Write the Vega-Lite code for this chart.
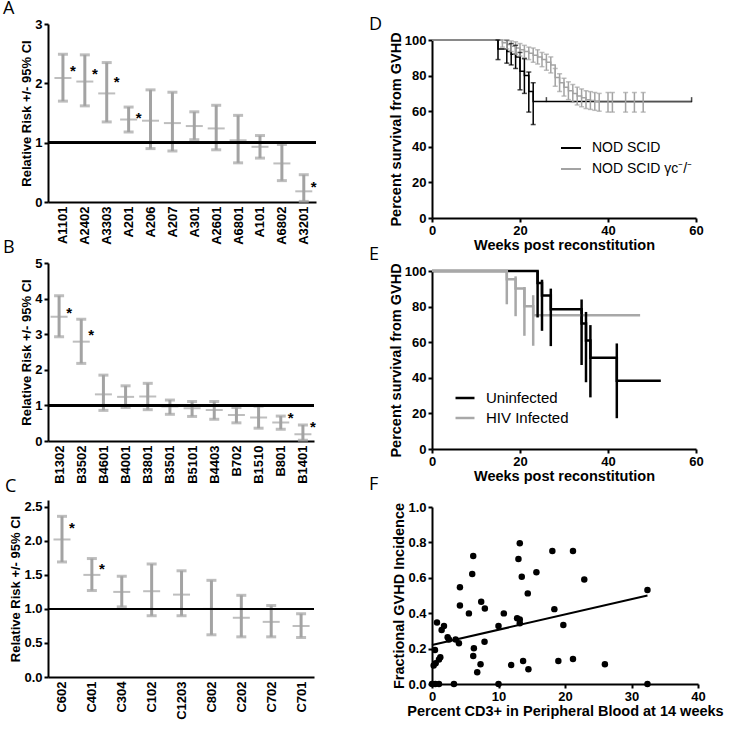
{
  "$schema": "https://vega.github.io/schema/vega-lite/v6.json",
  "padding": {"left": 3, "top": 0, "right": 0, "bottom": 0},
  "background": "white",
  "datasets": {
    "A": [
      {"allele": "A1101", "mid": 2.09, "lo": 1.70, "hi": 2.49},
      {"allele": "A2402", "mid": 2.03, "lo": 1.62, "hi": 2.48},
      {"allele": "A3303", "mid": 1.83, "lo": 1.35, "hi": 2.35},
      {"allele": "A201", "mid": 1.39, "lo": 1.18, "hi": 1.60},
      {"allele": "A206", "mid": 1.37, "lo": 0.90, "hi": 1.89},
      {"allele": "A207", "mid": 1.33, "lo": 0.86, "hi": 1.85},
      {"allele": "A301", "mid": 1.28, "lo": 1.05, "hi": 1.52},
      {"allele": "A2601", "mid": 1.24, "lo": 0.88, "hi": 1.63},
      {"allele": "A6801", "mid": 1.04, "lo": 0.66, "hi": 1.46},
      {"allele": "A101", "mid": 0.93, "lo": 0.74, "hi": 1.12},
      {"allele": "A6802", "mid": 0.65, "lo": 0.36, "hi": 0.97},
      {"allele": "A3201", "mid": 0.18, "lo": 0.01, "hi": 0.46}
    ],
    "Astar": [
      {"allele": "A1101", "sy": 2.27},
      {"allele": "A2402", "sy": 2.22},
      {"allele": "A3303", "sy": 2.09},
      {"allele": "A201", "sy": 1.48},
      {"allele": "A3201", "sy": 0.32}
    ],
    "B": [
      {"allele": "B1302", "mid": 3.49, "lo": 2.93, "hi": 4.08},
      {"allele": "B3502", "mid": 2.79, "lo": 2.18, "hi": 3.42},
      {"allele": "B4601", "mid": 1.31, "lo": 0.86, "hi": 1.85},
      {"allele": "B4001", "mid": 1.24, "lo": 0.94, "hi": 1.55},
      {"allele": "B3801", "mid": 1.25, "lo": 0.88, "hi": 1.62},
      {"allele": "B3501", "mid": 0.97, "lo": 0.75, "hi": 1.15},
      {"allele": "B5101", "mid": 0.92, "lo": 0.69, "hi": 1.11},
      {"allele": "B4403", "mid": 0.87, "lo": 0.61, "hi": 1.11},
      {"allele": "B702", "mid": 0.73, "lo": 0.51, "hi": 0.94},
      {"allele": "B1510", "mid": 0.66, "lo": 0.36, "hi": 0.98},
      {"allele": "B801", "mid": 0.52, "lo": 0.33, "hi": 0.70},
      {"allele": "B1401", "mid": 0.19, "lo": 0.02, "hi": 0.45}
    ],
    "Bstar": [
      {"allele": "B1302", "sy": 3.72},
      {"allele": "B3502", "sy": 3.10},
      {"allele": "B801", "sy": 0.77},
      {"allele": "B1401", "sy": 0.51}
    ],
    "C": [
      {"allele": "C602", "mid": 2.02, "lo": 1.69, "hi": 2.36},
      {"allele": "C401", "mid": 1.50, "lo": 1.27, "hi": 1.74},
      {"allele": "C304", "mid": 1.25, "lo": 1.03, "hi": 1.48},
      {"allele": "C102", "mid": 1.26, "lo": 0.90, "hi": 1.66},
      {"allele": "C1203", "mid": 1.21, "lo": 0.90, "hi": 1.56},
      {"allele": "C802", "mid": 1.00, "lo": 0.62, "hi": 1.42},
      {"allele": "C202", "mid": 0.87, "lo": 0.59, "hi": 1.20},
      {"allele": "C702", "mid": 0.81, "lo": 0.59, "hi": 1.05},
      {"allele": "C701", "mid": 0.75, "lo": 0.58, "hi": 0.93}
    ],
    "Cstar": [
      {"allele": "C602", "sy": 2.25},
      {"allele": "C401", "sy": 1.64}
    ],
    "Dkm": [
      {"g": "NOD SCID", "t": 0, "s": 100},
      {"g": "NOD SCID", "t": 15, "s": 95},
      {"g": "NOD SCID", "t": 17, "s": 93.5},
      {"g": "NOD SCID", "t": 18, "s": 92},
      {"g": "NOD SCID", "t": 19, "s": 90.5},
      {"g": "NOD SCID", "t": 20, "s": 82.5},
      {"g": "NOD SCID", "t": 21, "s": 80},
      {"g": "NOD SCID", "t": 22, "s": 71},
      {"g": "NOD SCID", "t": 23, "s": 65.5},
      {"g": "NOD SCID", "t": 59, "s": 65.5},
      {"g": "NOD SCID γc⁻/⁻", "t": 0, "s": 100},
      {"g": "NOD SCID γc⁻/⁻", "t": 16, "s": 98.5},
      {"g": "NOD SCID γc⁻/⁻", "t": 17, "s": 97.5},
      {"g": "NOD SCID γc⁻/⁻", "t": 18, "s": 96.5},
      {"g": "NOD SCID γc⁻/⁻", "t": 19, "s": 95.5},
      {"g": "NOD SCID γc⁻/⁻", "t": 20, "s": 94.5},
      {"g": "NOD SCID γc⁻/⁻", "t": 21, "s": 93.5},
      {"g": "NOD SCID γc⁻/⁻", "t": 22, "s": 92.5},
      {"g": "NOD SCID γc⁻/⁻", "t": 23, "s": 91.5},
      {"g": "NOD SCID γc⁻/⁻", "t": 24, "s": 90.5},
      {"g": "NOD SCID γc⁻/⁻", "t": 25, "s": 89},
      {"g": "NOD SCID γc⁻/⁻", "t": 26, "s": 87.5},
      {"g": "NOD SCID γc⁻/⁻", "t": 27, "s": 86},
      {"g": "NOD SCID γc⁻/⁻", "t": 28, "s": 79},
      {"g": "NOD SCID γc⁻/⁻", "t": 29, "s": 76},
      {"g": "NOD SCID γc⁻/⁻", "t": 30, "s": 73.5},
      {"g": "NOD SCID γc⁻/⁻", "t": 31, "s": 71.5},
      {"g": "NOD SCID γc⁻/⁻", "t": 32, "s": 70},
      {"g": "NOD SCID γc⁻/⁻", "t": 33, "s": 68.5},
      {"g": "NOD SCID γc⁻/⁻", "t": 34, "s": 67.5},
      {"g": "NOD SCID γc⁻/⁻", "t": 35, "s": 66.5},
      {"g": "NOD SCID γc⁻/⁻", "t": 36, "s": 66},
      {"g": "NOD SCID γc⁻/⁻", "t": 37, "s": 65.5},
      {"g": "NOD SCID γc⁻/⁻", "t": 38, "s": 65},
      {"g": "NOD SCID γc⁻/⁻", "t": 59, "s": 65}
    ],
    "Derr": [
      {"g": "NOD SCID", "t": 15, "lo": 89, "hi": 100},
      {"g": "NOD SCID", "t": 17, "lo": 87, "hi": 99.8},
      {"g": "NOD SCID", "t": 18, "lo": 86, "hi": 98},
      {"g": "NOD SCID", "t": 19, "lo": 84, "hi": 97},
      {"g": "NOD SCID", "t": 20, "lo": 72, "hi": 93},
      {"g": "NOD SCID", "t": 21, "lo": 70, "hi": 89.5},
      {"g": "NOD SCID", "t": 22, "lo": 59.5, "hi": 82},
      {"g": "NOD SCID", "t": 23, "lo": 52.5, "hi": 76},
      {"g": "NOD SCID γc⁻/⁻", "t": 16, "lo": 96, "hi": 100},
      {"g": "NOD SCID γc⁻/⁻", "t": 17, "lo": 95, "hi": 100},
      {"g": "NOD SCID γc⁻/⁻", "t": 18, "lo": 93.5, "hi": 99.5},
      {"g": "NOD SCID γc⁻/⁻", "t": 19, "lo": 92, "hi": 99},
      {"g": "NOD SCID γc⁻/⁻", "t": 20, "lo": 91, "hi": 98},
      {"g": "NOD SCID γc⁻/⁻", "t": 21, "lo": 90, "hi": 97},
      {"g": "NOD SCID γc⁻/⁻", "t": 22, "lo": 89, "hi": 96},
      {"g": "NOD SCID γc⁻/⁻", "t": 23, "lo": 87.5, "hi": 95.5},
      {"g": "NOD SCID γc⁻/⁻", "t": 24, "lo": 86.5, "hi": 94.5},
      {"g": "NOD SCID γc⁻/⁻", "t": 25, "lo": 85, "hi": 93},
      {"g": "NOD SCID γc⁻/⁻", "t": 26, "lo": 83, "hi": 92},
      {"g": "NOD SCID γc⁻/⁻", "t": 27, "lo": 81.5, "hi": 90.5},
      {"g": "NOD SCID γc⁻/⁻", "t": 28, "lo": 74, "hi": 84},
      {"g": "NOD SCID γc⁻/⁻", "t": 29, "lo": 71, "hi": 81},
      {"g": "NOD SCID γc⁻/⁻", "t": 30, "lo": 68.5, "hi": 78.5},
      {"g": "NOD SCID γc⁻/⁻", "t": 31, "lo": 66.5, "hi": 76.5},
      {"g": "NOD SCID γc⁻/⁻", "t": 32, "lo": 65, "hi": 75},
      {"g": "NOD SCID γc⁻/⁻", "t": 33, "lo": 63.5, "hi": 73.5},
      {"g": "NOD SCID γc⁻/⁻", "t": 34, "lo": 62.5, "hi": 72.5},
      {"g": "NOD SCID γc⁻/⁻", "t": 35, "lo": 61.5, "hi": 71.5},
      {"g": "NOD SCID γc⁻/⁻", "t": 36, "lo": 61, "hi": 71},
      {"g": "NOD SCID γc⁻/⁻", "t": 37, "lo": 60.5, "hi": 70.5},
      {"g": "NOD SCID γc⁻/⁻", "t": 38, "lo": 60, "hi": 70},
      {"g": "NOD SCID γc⁻/⁻", "t": 40, "lo": 59.5, "hi": 70.5},
      {"g": "NOD SCID γc⁻/⁻", "t": 41, "lo": 59.5, "hi": 70.5},
      {"g": "NOD SCID γc⁻/⁻", "t": 44, "lo": 59.5, "hi": 70.5},
      {"g": "NOD SCID γc⁻/⁻", "t": 46, "lo": 59.5, "hi": 70.5},
      {"g": "NOD SCID γc⁻/⁻", "t": 48, "lo": 59.5, "hi": 70.5}
    ],
    "Dcens": [
      {"g": "NOD SCID", "t": 26, "s": 66.5},
      {"g": "NOD SCID", "t": 59, "s": 66.5}
    ],
    "Ekm": [
      {"g": "Uninfected", "t": 0, "s": 100},
      {"g": "Uninfected", "t": 24, "s": 93.3},
      {"g": "Uninfected", "t": 25, "s": 86.2},
      {"g": "Uninfected", "t": 27, "s": 78.5},
      {"g": "Uninfected", "t": 34, "s": 70.5},
      {"g": "Uninfected", "t": 35, "s": 61},
      {"g": "Uninfected", "t": 36, "s": 51.2},
      {"g": "Uninfected", "t": 42, "s": 38.3},
      {"g": "Uninfected", "t": 52, "s": 38.3},
      {"g": "HIV Infected", "t": 0, "s": 100},
      {"g": "HIV Infected", "t": 17, "s": 95.3},
      {"g": "HIV Infected", "t": 19, "s": 90.1},
      {"g": "HIV Infected", "t": 21, "s": 80.2},
      {"g": "HIV Infected", "t": 23, "s": 75.2},
      {"g": "HIV Infected", "t": 47.3, "s": 75.2}
    ],
    "Eerr": [
      {"g": "Uninfected", "t": 24, "lo": 73.9, "hi": 100},
      {"g": "Uninfected", "t": 25, "lo": 66.4, "hi": 95.1},
      {"g": "Uninfected", "t": 27, "lo": 57.8, "hi": 90.1},
      {"g": "Uninfected", "t": 34, "lo": 47.2, "hi": 84},
      {"g": "Uninfected", "t": 35, "lo": 37.5, "hi": 77},
      {"g": "Uninfected", "t": 36, "lo": 29, "hi": 69.6},
      {"g": "Uninfected", "t": 42, "lo": 17.3, "hi": 59.3},
      {"g": "HIV Infected", "t": 17, "lo": 81.3, "hi": 100},
      {"g": "HIV Infected", "t": 19, "lo": 74.6, "hi": 97},
      {"g": "HIV Infected", "t": 21, "lo": 63.6, "hi": 91},
      {"g": "HIV Infected", "t": 23, "lo": 58, "hi": 86.4}
    ],
    "F": [
      {"cd3": 0.25, "inc": 0.104}, {"cd3": 0.45, "inc": 0.192}, {"cd3": 0.75, "inc": 0.348},
      {"cd3": 0.55, "inc": 0.117}, {"cd3": 1.05, "inc": 0.139}, {"cd3": 1.25, "inc": 0.151},
      {"cd3": 1.45, "inc": 0.305}, {"cd3": 1.8, "inc": 0.328}, {"cd3": 2.35, "inc": 0.264},
      {"cd3": 2.55, "inc": 0.252}, {"cd3": 3.55, "inc": 0.252}, {"cd3": 4.05, "inc": 0.230},
      {"cd3": 4.2, "inc": 0.546}, {"cd3": 4.2, "inc": 0.444}, {"cd3": 5.55, "inc": 0.399},
      {"cd3": 6.2, "inc": 0.723}, {"cd3": 6.05, "inc": 0.621}, {"cd3": 7.4, "inc": 0.465},
      {"cd3": 7.95, "inc": 0.427}, {"cd3": 7.9, "inc": 0.239}, {"cd3": 6.3, "inc": 0.202},
      {"cd3": 6.2, "inc": 0.158}, {"cd3": 7.3, "inc": 0.111}, {"cd3": 6.8, "inc": 0.066},
      {"cd3": 10.0, "inc": 0.328}, {"cd3": 10.8, "inc": 0.399}, {"cd3": 11.9, "inc": 0.107},
      {"cd3": 13.0, "inc": 0.706}, {"cd3": 13.2, "inc": 0.795}, {"cd3": 13.5, "inc": 0.606},
      {"cd3": 12.8, "inc": 0.371}, {"cd3": 13.2, "inc": 0.365}, {"cd3": 13.2, "inc": 0.343},
      {"cd3": 13.7, "inc": 0.130}, {"cd3": 14.5, "inc": 0.083}, {"cd3": 14.4, "inc": 0.512},
      {"cd3": 15.7, "inc": 0.631}, {"cd3": 18.1, "inc": 0.751}, {"cd3": 18.4, "inc": 0.423},
      {"cd3": 19.0, "inc": 0.130}, {"cd3": 19.75, "inc": 0.333}, {"cd3": 21.2, "inc": 0.751},
      {"cd3": 21.2, "inc": 0.141}, {"cd3": 22.9, "inc": 0.591}, {"cd3": 26.0, "inc": 0.111},
      {"cd3": 32.4, "inc": 0.531},
      {"cd3": 0.0, "inc": 0}, {"cd3": 0.5, "inc": 0}, {"cd3": 1.05, "inc": 0},
      {"cd3": 3.3, "inc": 0}, {"cd3": 10.0, "inc": 0}, {"cd3": 32.4, "inc": 0}
    ],
    "Ffit": [
      {"cd3": 0, "inc": 0.22},
      {"cd3": 32.4, "inc": 0.50}
    ]
  },
  "hconcat": [
    {
      "spacing": -6,
      "vconcat": [
        {
          "width": 268, "height": 178,
          "title": {"text": "A", "dx": -45, "offset": 0},
          "encoding": {
            "x": {"field": "allele", "type": "nominal", "sort": null,
                  "scale": {"type": "point", "padding": 0.62, "align": 0.55},
                  "axis": {"title": null, "labelAngle": -90, "ticks": false, "labelPadding": 4}}
          },
          "layer": [
            {"data": {"name": "A"}, "mark": {"type": "rule", "color": "#a3a3a3", "strokeWidth": 3},
             "encoding": {"y": {"field": "lo", "type": "quantitative", "scale": {"domain": [0, 3]},
                                "axis": {"title": "Relative Risk +/- 95% CI", "titleFontSize": 13, "values": [0, 1, 2, 3]}},
                          "y2": {"field": "hi"}}},
            {"data": {"name": "A"}, "mark": {"type": "tick", "color": "#a3a3a3", "thickness": 3, "size": 10, "orient": "horizontal"},
             "encoding": {"y": {"field": "lo", "type": "quantitative", "axis": {"title": "Relative Risk +/- 95% CI", "titleFontSize": 13, "values": [0, 1, 2, 3]}}}},
            {"data": {"name": "A"}, "mark": {"type": "tick", "color": "#a3a3a3", "thickness": 3, "size": 10, "orient": "horizontal"},
             "encoding": {"y": {"field": "hi", "type": "quantitative", "axis": {"title": "Relative Risk +/- 95% CI", "titleFontSize": 13, "values": [0, 1, 2, 3]}}}},
            {"data": {"name": "A"}, "mark": {"type": "tick", "color": "#a3a3a3", "thickness": 2, "size": 17, "orient": "horizontal"},
             "encoding": {"y": {"field": "mid", "type": "quantitative", "axis": {"title": "Relative Risk +/- 95% CI", "titleFontSize": 13, "values": [0, 1, 2, 3]}}}},
            {"data": {"name": "A"}, "mark": {"type": "rule", "color": "black", "strokeWidth": 2},
             "encoding": {"x": null, "y": {"datum": 1, "type": "quantitative", "axis": {"title": "Relative Risk +/- 95% CI", "titleFontSize": 13, "values": [0, 1, 2, 3]}}}},
            {"data": {"name": "Astar"}, "mark": {"type": "text", "text": "*", "dx": 10, "dy": 4, "fontSize": 15, "fontWeight": "bold", "font": "Liberation Sans", "color": "black"},
             "encoding": {"y": {"field": "sy", "type": "quantitative", "axis": {"title": "Relative Risk +/- 95% CI", "titleFontSize": 13, "values": [0, 1, 2, 3]}}}}
          ]
        },
        {
          "width": 266, "height": 178,
          "title": {"text": "B", "dx": -45, "offset": 0},
          "encoding": {
            "x": {"field": "allele", "type": "nominal", "sort": null,
                  "scale": {"type": "point", "padding": 0.5, "align": 0.5},
                  "axis": {"title": null, "labelAngle": -90, "ticks": false, "labelPadding": 4}}
          },
          "layer": [
            {"data": {"name": "B"}, "mark": {"type": "rule", "color": "#a3a3a3", "strokeWidth": 3},
             "encoding": {"y": {"field": "lo", "type": "quantitative", "scale": {"domain": [0, 5]},
                                "axis": {"title": "Relative Risk +/- 95% CI", "titleFontSize": 13, "values": [0, 1, 2, 3, 4, 5]}},
                          "y2": {"field": "hi"}}},
            {"data": {"name": "B"}, "mark": {"type": "tick", "color": "#a3a3a3", "thickness": 3, "size": 10, "orient": "horizontal"},
             "encoding": {"y": {"field": "lo", "type": "quantitative", "axis": {"title": "Relative Risk +/- 95% CI", "titleFontSize": 13, "values": [0, 1, 2, 3, 4, 5]}}}},
            {"data": {"name": "B"}, "mark": {"type": "tick", "color": "#a3a3a3", "thickness": 3, "size": 10, "orient": "horizontal"},
             "encoding": {"y": {"field": "hi", "type": "quantitative", "axis": {"title": "Relative Risk +/- 95% CI", "titleFontSize": 13, "values": [0, 1, 2, 3, 4, 5]}}}},
            {"data": {"name": "B"}, "mark": {"type": "tick", "color": "#a3a3a3", "thickness": 2, "size": 17, "orient": "horizontal"},
             "encoding": {"y": {"field": "mid", "type": "quantitative", "axis": {"title": "Relative Risk +/- 95% CI", "titleFontSize": 13, "values": [0, 1, 2, 3, 4, 5]}}}},
            {"data": {"name": "B"}, "mark": {"type": "rule", "color": "black", "strokeWidth": 2},
             "encoding": {"x": null, "y": {"datum": 1, "type": "quantitative", "axis": {"title": "Relative Risk +/- 95% CI", "titleFontSize": 13, "values": [0, 1, 2, 3, 4, 5]}}}},
            {"data": {"name": "Bstar"}, "mark": {"type": "text", "text": "*", "dx": 10, "dy": 4, "fontSize": 15, "fontWeight": "bold", "font": "Liberation Sans", "color": "black"},
             "encoding": {"y": {"field": "sy", "type": "quantitative", "axis": {"title": "Relative Risk +/- 95% CI", "titleFontSize": 13, "values": [0, 1, 2, 3, 4, 5]}}}}
          ]
        },
        {
          "width": 266, "height": 177,
          "title": {"text": "C", "dx": -43, "offset": 4},
          "encoding": {
            "x": {"field": "allele", "type": "nominal", "sort": null,
                  "scale": {"type": "point", "padding": 0.45, "align": 0.52},
                  "axis": {"title": null, "labelAngle": -90, "ticks": false, "labelPadding": 4}}
          },
          "layer": [
            {"data": {"name": "C"}, "mark": {"type": "rule", "color": "#a3a3a3", "strokeWidth": 3},
             "encoding": {"y": {"field": "lo", "type": "quantitative", "scale": {"domain": [0, 2.5]},
                                "axis": {"title": "Relative Risk +/- 95% CI", "titleFontSize": 13, "values": [0, 0.5, 1, 1.5, 2, 2.5], "format": ".1f"}},
                          "y2": {"field": "hi"}}},
            {"data": {"name": "C"}, "mark": {"type": "tick", "color": "#a3a3a3", "thickness": 3, "size": 10, "orient": "horizontal"},
             "encoding": {"y": {"field": "lo", "type": "quantitative", "axis": {"title": "Relative Risk +/- 95% CI", "titleFontSize": 13, "values": [0, 0.5, 1, 1.5, 2, 2.5], "format": ".1f"}}}},
            {"data": {"name": "C"}, "mark": {"type": "tick", "color": "#a3a3a3", "thickness": 3, "size": 10, "orient": "horizontal"},
             "encoding": {"y": {"field": "hi", "type": "quantitative", "axis": {"title": "Relative Risk +/- 95% CI", "titleFontSize": 13, "values": [0, 0.5, 1, 1.5, 2, 2.5], "format": ".1f"}}}},
            {"data": {"name": "C"}, "mark": {"type": "tick", "color": "#a3a3a3", "thickness": 2, "size": 17, "orient": "horizontal"},
             "encoding": {"y": {"field": "mid", "type": "quantitative", "axis": {"title": "Relative Risk +/- 95% CI", "titleFontSize": 13, "values": [0, 0.5, 1, 1.5, 2, 2.5], "format": ".1f"}}}},
            {"data": {"name": "C"}, "mark": {"type": "rule", "color": "black", "strokeWidth": 2},
             "encoding": {"x": null, "y": {"datum": 1, "type": "quantitative", "axis": {"title": "Relative Risk +/- 95% CI", "titleFontSize": 13, "values": [0, 0.5, 1, 1.5, 2, 2.5], "format": ".1f"}}}},
            {"data": {"name": "Cstar"}, "mark": {"type": "text", "text": "*", "dx": 10, "dy": 4, "fontSize": 15, "fontWeight": "bold", "font": "Liberation Sans", "color": "black"},
             "encoding": {"y": {"field": "sy", "type": "quantitative", "axis": {"title": "Relative Risk +/- 95% CI", "titleFontSize": 13, "values": [0, 0.5, 1, 1.5, 2, 2.5], "format": ".1f"}}}}
          ]
        }
      ]
    },
    {
      "spacing": -7,
      "resolve": {"scale": {"color": "independent"}, "legend": {"color": "independent"}},
      "vconcat": [
        {
          "width": 264, "height": 194,
          "title": {"text": "D", "dx": -63, "offset": -10},
          "layer": [
            {"data": {"name": "Dkm"}, "mark": {"type": "line", "interpolate": "step-after", "strokeWidth": 1.5},
             "encoding": {
               "x": {"field": "t", "type": "quantitative", "scale": {"domain": [0, 60]},
                     "axis": {"title": "Weeks post reconstitution", "values": [0, 20, 40, 60]}},
               "y": {"field": "s", "type": "quantitative", "scale": {"domain": [0, 100], "range": [194, 16]},
                     "axis": {"title": "Percent survival from GVHD", "values": [0, 20, 40, 60, 80, 100]}},
               "color": {"field": "g", "type": "nominal",
                         "scale": {"domain": ["NOD SCID", "NOD SCID γc⁻/⁻"], "range": ["black", "#a3a3a3"]},
                         "legend": {"orient": "none", "legendX": 128, "legendY": 113, "title": null, "symbolType": "stroke",
                                    "symbolStrokeWidth": 2, "symbolSize": 400, "labelFontSize": 14, "labelFont": "Liberation Sans",
                                    "labelFontWeight": "normal", "labelColor": "black", "rowPadding": 3, "labelOffset": 10}},
               "order": {"field": "t", "type": "quantitative"}
             }},
            {"data": {"name": "Derr"}, "mark": {"type": "rule", "strokeWidth": 1.5},
             "encoding": {"x": {"field": "t", "type": "quantitative", "axis": {"title": "Weeks post reconstitution", "values": [0, 20, 40, 60]}},
                          "y": {"field": "lo", "type": "quantitative", "axis": {"title": "Percent survival from GVHD", "values": [0, 20, 40, 60, 80, 100]}},
                          "y2": {"field": "hi"},
                          "color": {"field": "g", "type": "nominal", "legend": null}}},
            {"data": {"name": "Derr"}, "mark": {"type": "tick", "orient": "horizontal", "size": 5, "thickness": 1.5},
             "encoding": {"x": {"field": "t", "type": "quantitative", "axis": {"title": "Weeks post reconstitution", "values": [0, 20, 40, 60]}},
                          "y": {"field": "lo", "type": "quantitative", "axis": {"title": "Percent survival from GVHD", "values": [0, 20, 40, 60, 80, 100]}},
                          "color": {"field": "g", "type": "nominal", "legend": null}}},
            {"data": {"name": "Derr"}, "mark": {"type": "tick", "orient": "horizontal", "size": 5, "thickness": 1.5},
             "encoding": {"x": {"field": "t", "type": "quantitative", "axis": {"title": "Weeks post reconstitution", "values": [0, 20, 40, 60]}},
                          "y": {"field": "hi", "type": "quantitative", "axis": {"title": "Percent survival from GVHD", "values": [0, 20, 40, 60, 80, 100]}},
                          "color": {"field": "g", "type": "nominal", "legend": null}}},
            {"data": {"name": "Dcens"}, "mark": {"type": "tick", "orient": "vertical", "size": 5, "thickness": 1.5},
             "encoding": {"x": {"field": "t", "type": "quantitative", "axis": {"title": "Weeks post reconstitution", "values": [0, 20, 40, 60]}},
                          "y": {"field": "s", "type": "quantitative", "axis": {"title": "Percent survival from GVHD", "values": [0, 20, 40, 60, 80, 100]}},
                          "color": {"field": "g", "type": "nominal", "legend": null}}}
          ]
        },
        {
          "width": 264, "height": 178,
          "title": {"text": "E", "dx": -63, "offset": -1},
          "layer": [
            {"data": {"name": "Ekm"}, "mark": {"type": "line", "interpolate": "step-after", "strokeWidth": 2.5},
             "encoding": {
               "x": {"field": "t", "type": "quantitative", "scale": {"domain": [0, 60]},
                     "axis": {"title": "Weeks post reconstitution", "values": [0, 20, 40, 60]}},
               "y": {"field": "s", "type": "quantitative", "scale": {"domain": [0, 100]},
                     "axis": {"title": "Percent survival from GVHD", "values": [0, 20, 40, 60, 80, 100]}},
               "color": {"field": "g", "type": "nominal",
                         "scale": {"domain": ["Uninfected", "HIV Infected"], "range": ["black", "#a8a8a8"]},
                         "legend": {"orient": "none", "legendX": 22, "legendY": 116, "title": null, "symbolType": "stroke",
                                    "symbolStrokeWidth": 2.5, "symbolSize": 360, "labelFontSize": 15, "labelFont": "Liberation Sans",
                                    "labelFontWeight": "normal", "labelColor": "black", "rowPadding": 1, "labelOffset": 10}},
               "order": {"field": "t", "type": "quantitative"}
             }},
            {"data": {"name": "Eerr"}, "mark": {"type": "rule", "strokeWidth": 2.5},
             "encoding": {"x": {"field": "t", "type": "quantitative", "axis": {"title": "Weeks post reconstitution", "values": [0, 20, 40, 60]}},
                          "y": {"field": "lo", "type": "quantitative", "axis": {"title": "Percent survival from GVHD", "values": [0, 20, 40, 60, 80, 100]}},
                          "y2": {"field": "hi"},
                          "color": {"field": "g", "type": "nominal", "legend": null}}}
          ]
        },
        {
          "width": 266, "height": 177,
          "title": {"text": "F", "dx": -63, "offset": 7},
          "layer": [
            {"data": {"name": "F"}, "mark": {"type": "circle", "color": "black", "size": 42, "opacity": 1},
             "encoding": {
               "x": {"field": "cd3", "type": "quantitative", "scale": {"domain": [0, 40]},
                     "axis": {"title": "Percent CD3+ in Peripheral Blood at 14 weeks", "values": [0, 10, 20, 30, 40]}},
               "y": {"field": "inc", "type": "quantitative", "scale": {"domain": [0, 1]},
                     "axis": {"title": "Fractional GVHD Incidence", "values": [0, 0.2, 0.4, 0.6, 0.8, 1], "format": ".1f"}}
             }},
            {"data": {"name": "Ffit"}, "mark": {"type": "line", "color": "black", "strokeWidth": 2},
             "encoding": {"x": {"field": "cd3", "type": "quantitative", "axis": {"title": "Percent CD3+ in Peripheral Blood at 14 weeks", "values": [0, 10, 20, 30, 40]}},
                          "y": {"field": "inc", "type": "quantitative", "axis": {"title": "Fractional GVHD Incidence", "values": [0, 0.2, 0.4, 0.6, 0.8, 1], "format": ".1f"}}}}
          ]
        }
      ]
    }
  ],
  "spacing": 52,
  "resolve": {"scale": {"color": "independent"}, "legend": {"color": "independent"}},
  "config": {
    "view": {"stroke": null},
    "axis": {
      "domainColor": "black", "domainWidth": 2, "tickColor": "black", "tickWidth": 2, "tickSize": 4,
      "labelFont": "Liberation Sans", "labelFontWeight": "bold", "labelFontSize": 13, "labelColor": "black",
      "labelFlush": false, "labelOverlap": false,
      "titleFont": "Liberation Sans", "titleFontWeight": "bold", "titleFontSize": 14.5, "titleColor": "black",
      "titlePadding": 1,
      "grid": false
    },
    "title": {"font": "Open Sans", "fontSize": 18, "fontWeight": "normal", "anchor": "start", "frame": "group", "color": "black"}
  }
}
